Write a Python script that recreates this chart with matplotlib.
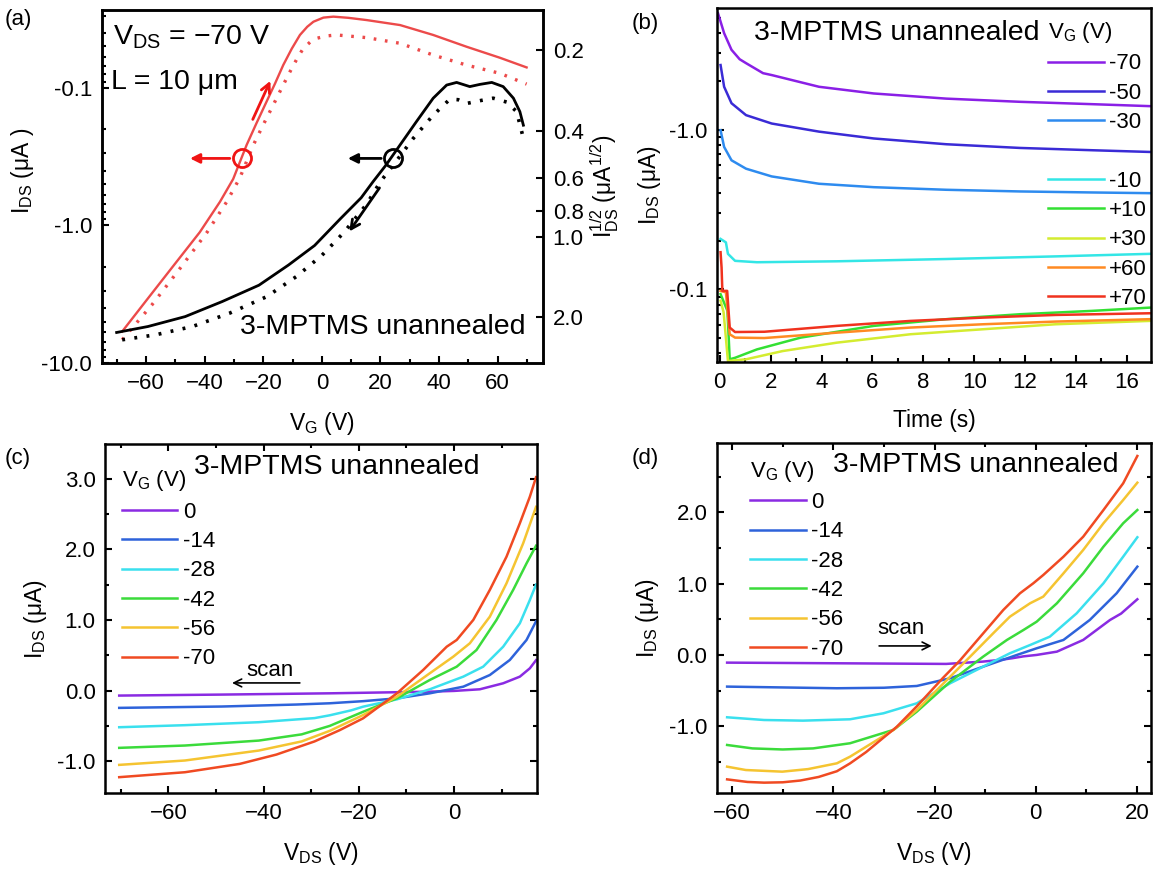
import matplotlib
matplotlib.use("Agg")
import matplotlib.pyplot as plt
from matplotlib.lines import Line2D
from matplotlib.ticker import FixedLocator, NullLocator, MultipleLocator, LogLocator

plt.rcParams['font.family'] = ['Liberation Sans', 'DejaVu Sans']
plt.rcParams['mathtext.fontset'] = 'custom'
plt.rcParams['mathtext.rm'] = 'Liberation Sans'
plt.rcParams['mathtext.it'] = 'Liberation Sans:italic'
plt.rcParams['axes.linewidth'] = 1.8

# ---- panel (a): transfer curves, |I_DS| in uA (axis labelled negative)
red_fwd_vg = [-68.2, -59.4, -50.5, -41.7, -34.8, -30.3, -25.7, -22.3, -18.9, -16.0, -13.2, -10.3, -7.5, -5.0, -2.9, 0.5, 3.9, 9.0, 15.3, 26.7, 38.0, 49.4, 60.8, 69.9]
red_fwd_i = [5.9, 3.39, 1.94, 1.12, 0.673, 0.46, 0.26, 0.18, 0.126, 0.093, 0.0683, 0.052, 0.0413, 0.036, 0.0331, 0.0309, 0.0304, 0.031, 0.0322, 0.035, 0.0413, 0.0503, 0.0605, 0.0711]
red_dot_vg = [-68.2, -58.1, -49.3, -39.2, -32.5, -28.0, -23.4, -20.0, -16.6, -13.7, -10.9, -8.6, -6.4, -4.0, -1.8, 1.5, 5.0, 15.3, 26.7, 38.0, 49.4, 60.8, 69.9]
red_dot_i = [6.78, 3.79, 2.17, 1.12, 0.673, 0.45, 0.26, 0.185, 0.133, 0.1, 0.0764, 0.062, 0.0518, 0.0465, 0.0437, 0.042, 0.0413, 0.0432, 0.0475, 0.0578, 0.0684, 0.0785, 0.094]
blk_vg = [-70.1, -59.4, -46.7, -34.1, -21.5, -11.4, -2.5, 6.3, 13.4, 17.5, 21.9, 26.7, 32.2, 38.0, 42.6, 46.0, 48.5, 50.5, 54.0, 58.0, 61.9, 65.4, 67.6, 68.8]
blk_i = [6.0, 5.43, 4.6, 3.58, 2.72, 1.94, 1.40, 0.895, 0.63, 0.48, 0.364, 0.26, 0.177, 0.119, 0.0955, 0.0914, 0.095, 0.098, 0.0944, 0.0914, 0.098, 0.119, 0.149, 0.187]
blk_dot_vg = [-68.2, -56.8, -44.2, -31.6, -18.9, -8.8, 0, 7.6, 15.3, 20.0, 24.4, 31.2, 38.0, 43.7, 46.5, 49.4, 54.0, 58.5, 63.1, 66.5, 68.8]
blk_dot_i = [6.78, 6.24, 5.43, 4.35, 3.3, 2.36, 1.65, 1.12, 0.70, 0.48, 0.364, 0.233, 0.158, 0.121, 0.122, 0.13, 0.124, 0.119, 0.127, 0.149, 0.233]
sqrt_ticks = [0.2, 0.4, 0.6, 0.8, 1.0, 2.0]

# ---- panel (b): I_DS vs time for several gate voltages
vg_b = ['-70', '-50', '-30', '-10', '+10', '+30', '+60', '+70']
colors_b = ['#8A1FE6', '#3A2BD6', '#2E8BEF', '#33E6E6', '#33E033', '#D4EC30', '#FF8A22', '#F0321E']
t_b = [
    [-0.07, 0.17, 0.46, 0.78, 1.03, 1.7, 2.04, 3.9, 6.05, 8.9, 11.8, 14.65, 16.9],
    [0.03, 0.17, 0.46, 1.03, 2.04, 3.9, 6.05, 8.9, 11.8, 14.65, 16.9],
    [0.03, 0.17, 0.46, 1.03, 2.04, 3.9, 6.05, 8.9, 11.8, 14.65, 16.9],
    [0.03, 0.24, 0.32, 0.6, 1.46, 4.6, 8.9, 13.2, 16.9],
    [0.03, 0.3, 0.39, 0.6, 1.46, 3.18, 6.05, 8.9, 11.8, 14.65, 16.9],
    [0.03, 0.15, 0.32, 1.03, 2.47, 4.6, 7.5, 10.35, 13.2, 16.9],
    [0.03, 0.24, 0.39, 0.6, 1.75, 4.6, 7.5, 10.35, 13.2, 16.9],
    [0.03, 0.07, 0.1, 0.29, 0.39, 0.6, 1.75, 4.6, 7.5, 10.35, 13.2, 16.9],
]
i_b = [
    [5.33, 4.0, 3.15, 2.75, 2.6, 2.25, 2.19, 1.85, 1.68, 1.56, 1.49, 1.44, 1.40],
    [2.53, 1.85, 1.46, 1.23, 1.09, 0.97, 0.879, 0.809, 0.767, 0.742, 0.724],
    [0.99, 0.778, 0.642, 0.569, 0.509, 0.458, 0.436, 0.420, 0.41, 0.404, 0.40],
    [0.207, 0.197, 0.167, 0.151, 0.148, 0.150, 0.155, 0.161, 0.167],
    [0.0935, 0.0735, 0.0366, 0.0374, 0.0422, 0.05, 0.0592, 0.0652, 0.07, 0.0735, 0.077],
    [0.085, 0.072, 0.0357, 0.0366, 0.0412, 0.0465, 0.0525, 0.0564, 0.0606, 0.0636],
    [0.098, 0.096, 0.0525, 0.05, 0.0497, 0.0537, 0.0578, 0.0606, 0.063, 0.0652],
    [0.171, 0.137, 0.098, 0.098, 0.0578, 0.0542, 0.0544, 0.0592, 0.0636, 0.0667, 0.0693, 0.071],
]

# ---- panel (c) and (d): output curves
vg_cd = ['0', '-14', '-28', '-42', '-56', '-70']
colors_cd = ['#8A2BE2', '#2E63DA', '#3AE0EE', '#3BDB3B', '#F5C431', '#F04A22']
vds_c = [
    [-70.3, -48.8, -26.1, -5.1, 0, 5.4, 10.3, 13.8, 15.9, 17.2],
    [-70.3, -48.8, -33.2, -26.1, -19.1, -12.0, -5.1, 1.93, 7.5, 11.7, 15.2, 17.2],
    [-70.3, -56.5, -41, -29.3, -26.1, -21.6, -19.1, -12.0, -5.1, 1.93, 6.1, 10.3, 13.8, 15.9, 17.2],
    [-70.3, -56.5, -41, -32, -26.1, -19.1, -12.0, -5.1, 0.54, 4.7, 8.9, 12.4, 15.2, 17.2],
    [-70.3, -56.5, -41, -32, -26.1, -19.1, -12.0, -5.1, -0.17, 3.3, 7.5, 11.0, 14.5, 17.2],
    [-70.3, -56.5, -45, -37.3, -29.3, -24, -19.1, -12.0, -6.5, -1.55, 0.54, 4.03, 7.5, 11.0, 13.8, 15.9, 17.2],
]
ids_c = [
    [-0.071, -0.057, -0.039, -0.016, -0.005, 0.018, 0.103, 0.197, 0.315, 0.43],
    [-0.245, -0.226, -0.198, -0.18, -0.15, -0.11, -0.039, 0.055, 0.22, 0.433, 0.716, 0.98],
    [-0.519, -0.49, -0.448, -0.39, -0.35, -0.28, -0.228, -0.124, 0.018, 0.197, 0.338, 0.621, 0.952, 1.282, 1.50],
    [-0.811, -0.778, -0.708, -0.62, -0.50, -0.30, -0.11, 0.15, 0.338, 0.574, 1.0, 1.425, 1.80, 2.05],
    [-1.052, -0.99, -0.849, -0.72, -0.57, -0.346, -0.087, 0.245, 0.48, 0.669, 1.046, 1.518, 2.085, 2.60],
    [-1.226, -1.156, -1.038, -0.906, -0.72, -0.56, -0.393, -0.039, 0.291, 0.621, 0.716, 1.0, 1.425, 1.895, 2.368, 2.744, 3.02],
]
vds_d = [
    [-61, -39.3, -17.7, -10.5, -7.0, -4.7, -2.4, 0.2, 4.2, 9.4, 14.7, 16.9, 20.1],
    [-61, -39.3, -30, -23.5, -16.9, -10.4, -3.7, 0.2, 5.5, 10.7, 16.0, 20.1],
    [-61, -53.7, -46, -36.7, -30.1, -23.5, -16.9, -10.4, -5.1, -1.1, 2.8, 8.1, 13.4, 17.3, 20.1],
    [-61, -56, -50, -44, -36.7, -28.1, -23.5, -16.9, -10.4, -5.7, -2.4, 0.2, 4.2, 9.4, 13.4, 17.3, 20.1],
    [-61, -57.3, -50.1, -45, -39.3, -36.7, -28.1, -23.5, -16.9, -12.3, -8.4, -5.1, -1.1, 1.5, 5.5, 9.4, 13.4, 17.3, 20.1],
    [-61, -57, -53.7, -50, -46.5, -42.9, -39.3, -36.7, -33.5, -30.1, -27.5, -23.5, -18.3, -15.0, -10.4, -6.4, -3.1, -0.47, 1.5, 5.5, 9.4, 13.4, 17.3, 20.1],
]
ids_d = [
    [-0.108, -0.117, -0.126, -0.094, -0.07, -0.047, -0.02, 0.0, 0.046, 0.21, 0.49, 0.58, 0.78],
    [-0.444, -0.467, -0.46, -0.435, -0.327, -0.165, 0.0, 0.093, 0.21, 0.49, 0.864, 1.237],
    [-0.874, -0.912, -0.921, -0.902, -0.818, -0.678, -0.397, -0.165, 0.023, 0.139, 0.256, 0.583, 1.004, 1.377, 1.649],
    [-1.262, -1.31, -1.325, -1.31, -1.238, -1.05, -0.795, -0.375, -0.025, 0.209, 0.35, 0.466, 0.724, 1.144, 1.517, 1.845, 2.031],
    [-1.566, -1.613, -1.636, -1.60, -1.519, -1.426, -1.05, -0.772, -0.305, 0.023, 0.303, 0.536, 0.724, 0.817, 1.144, 1.471, 1.845, 2.171, 2.414],
    [-1.744, -1.78, -1.79, -1.785, -1.76, -1.71, -1.63, -1.52, -1.36, -1.16, -1.01, -0.72, -0.32, -0.08, 0.30, 0.63, 0.864, 1.004, 1.12, 1.377, 1.657, 2.031, 2.405, 2.788],
]

W, H = 1154, 869
fig = plt.figure(figsize=(W / 100, H / 100), dpi=100)


def box(x0, x1, y0, y1):
    # pixel box -> figure fraction
    return [x0 / W, 1 - y1 / H, (x1 - x0) / W, (y1 - y0) / H]


tick_fs = 16
lab_fs = 16.5
txt_fs = 20.5
DS = r'$_{\mathrm{DS}}$'
G = r'$_{\mathrm{G}}$'
leg_kw = dict(frameon=False, fontsize=tick_fs, title_fontsize=tick_fs, borderpad=0, borderaxespad=0,
              handlelength=2.5, handletextpad=0.25, labelspacing=0.375, alignment='left')


def style(ax, mirror=False):
    ax.tick_params(which='both', direction='in', labelsize=tick_fs, width=1.5,
                   top=mirror, right=mirror)
    ax.tick_params(which='major', length=5, pad=7)
    ax.tick_params(which='minor', length=3)


def neg_labels(vals):
    return ['-%.1f' % v for v in vals]


# ---------------- (a)
axa = fig.add_axes(box(101.7, 543, 10, 363))
axa.plot(red_fwd_vg, red_fwd_i, color='#EC4A4A', lw=1.7)
axa.plot(red_dot_vg, red_dot_i, color='#EC4A4A', lw=2.4, ls=(0, (0.8, 2.6)))
axa.plot(blk_vg, blk_i, color='black', lw=2.0)
axa.plot(blk_dot_vg, blk_dot_i, color='black', lw=2.6, ls=(0, (0.8, 2.6)))
axa.set_yscale('log')
axa.set_xlim(-75.2, 75.5)
axa.set_ylim(10, 0.0272)
axa.yaxis.set_major_locator(FixedLocator([0.1, 1, 10]))
axa.set_yticklabels(neg_labels([0.1, 1, 10]))
axa.yaxis.set_minor_locator(LogLocator(subs=range(2, 10)))
axa.yaxis.set_minor_formatter(plt.NullFormatter())
axa.xaxis.set_major_locator(MultipleLocator(20))
axa.xaxis.set_minor_locator(MultipleLocator(10))
style(axa)
axa.set_xlabel('V' + G + ' (V)', fontsize=lab_fs, labelpad=12)
axa.set_ylabel('I' + DS + ' (μA )', fontsize=lab_fs)
axa.yaxis.set_label_coords(-0.15, 0.545)

# circles and arrows marking which axis each curve belongs to
axa.plot([-27.4], [0.326], marker='o', ms=13, mfc='none', mec='#F01414', mew=2)
axa.annotate('', xy=(-46, 0.326), xytext=(-30.5, 0.326),
             arrowprops=dict(arrowstyle='-|>', color='#F01414', lw=2, mutation_scale=14))
axa.annotate('', xy=(-17.2, 0.0853), xytext=(-24.0, 0.177),
             arrowprops=dict(arrowstyle='->', color='#F01414', lw=2, mutation_scale=16))
axa.plot([24.2], [0.326], marker='o', ms=13, mfc='none', mec='black', mew=2)
axa.annotate('', xy=(7.9, 0.326), xytext=(21.2, 0.326),
             arrowprops=dict(arrowstyle='-|>', color='black', lw=2, mutation_scale=14))
axa.annotate('', xy=(8.8, 1.15), xytext=(20.2, 0.514),
             arrowprops=dict(arrowstyle='->', color='black', lw=2, mutation_scale=16))
axa.text(0.025, 0.924, 'V' + DS + ' = −70 V', transform=axa.transAxes, fontsize=txt_fs, va='center')
axa.text(0.021, 0.797, 'L = 10 μm', transform=axa.transAxes, fontsize=txt_fs, va='center')
axa.text(0.313, 0.102, '3-MPTMS unannealed', transform=axa.transAxes, fontsize=txt_fs, va='center')

axr = axa.twinx()
axr.set_yscale('log')
axr.set_ylim(2.97, 0.141)
axr.yaxis.set_major_locator(FixedLocator(sqrt_ticks))
axr.set_yticklabels(['%.1f' % v for v in sqrt_ticks])
axr.yaxis.set_minor_locator(NullLocator())
axr.tick_params(which='both', direction='in', labelsize=tick_fs, width=1.5, length=5, pad=7)
axr.set_ylabel(r'I$_{\mathrm{DS}}^{\mathrm{1/2}}$ (μA$^{\mathrm{1/2}}$)', fontsize=lab_fs, labelpad=4)

# ---------------- (b)
axb = fig.add_axes(box(717, 1151, 8, 362))
for k in range(len(vg_b)):
    axb.plot(t_b[k], i_b[k], color=colors_b[k], lw=1.8, label=vg_b[k])
axb.set_yscale('log')
axb.set_xlim(-0.11, 16.95)
axb.set_ylim(0.0352, 5.75)
axb.yaxis.set_major_locator(FixedLocator([0.1, 1]))
axb.set_yticklabels(neg_labels([0.1, 1]))
axb.yaxis.set_minor_locator(LogLocator(subs=range(2, 10)))
axb.yaxis.set_minor_formatter(plt.NullFormatter())
axb.xaxis.set_major_locator(MultipleLocator(2))
axb.xaxis.set_minor_locator(MultipleLocator(1))
style(axb)
axb.set_xlabel('Time (s)', fontsize=lab_fs, labelpad=12)
axb.set_ylabel('I' + DS + ' (μA)', fontsize=lab_fs, labelpad=4)
axb.text(0.085, 0.929, '3-MPTMS unannealed', transform=axb.transAxes, fontsize=txt_fs, va='center')
hb, lb = axb.get_legend_handles_labels()
hb = hb[:3] + [Line2D([], [], color='none')] + hb[3:]
lb = lb[:3] + [' '] + lb[3:]
axb.legend(hb, lb, title='V' + G + ' (V)', loc='upper left', bbox_to_anchor=(0.763, 0.966), **leg_kw)


# ---------------- (c) and (d)
def iv_panel(ax, vds, ids, xlim, ylim, xticks, yticks):
    for k in range(len(vg_cd)):
        ax.plot(vds[k], ids[k], color=colors_cd[k], lw=1.8, label=vg_cd[k])
    ax.set_xlim(*xlim)
    ax.set_ylim(*ylim)
    ax.set_xticks(xticks)
    ax.set_yticks(yticks)
    ax.set_yticklabels(['%.1f' % v for v in yticks])
    ax.xaxis.set_minor_locator(MultipleLocator(10))
    ax.yaxis.set_minor_locator(MultipleLocator(0.5))
    style(ax, mirror=True)
    ax.set_xlabel('V' + DS + ' (V)', fontsize=lab_fs, labelpad=12)
    ax.set_ylabel('I' + DS + ' (μA)', fontsize=lab_fs, labelpad=6)


axc = fig.add_axes(box(105.4, 537, 444, 793))
iv_panel(axc, vds_c, ids_c, (-73.2, 17.4), (-1.45, 3.49), [-60, -40, -20, 0], [-1.0, 0.0, 1.0, 2.0, 3.0])
axc.text(0.205, 0.934, '3-MPTMS unannealed', transform=axc.transAxes, fontsize=txt_fs, va='center')
axc.legend(title='V' + G + ' (V)', loc='upper left', bbox_to_anchor=(0.038, 0.93), **leg_kw)
axc.annotate('', xy=(-47.2, 0.108), xytext=(-31.8, 0.108),
             arrowprops=dict(arrowstyle='->', color='black', lw=1.2, mutation_scale=14))
axc.text(-38.7, 0.283, 'scan', fontsize=tick_fs, ha='center', va='center')

axd = fig.add_axes(box(717, 1151, 443, 793))
iv_panel(axd, vds_d, ids_d, (-63, 22.8), (-1.935, 2.97), [-60, -40, -20, 0, 20], [-1.0, 0.0, 1.0, 2.0])
axd.text(0.267, 0.937, '3-MPTMS unannealed', transform=axd.transAxes, fontsize=txt_fs, va='center')
axd.legend(title='V' + G + ' (V)', loc='upper left', bbox_to_anchor=(0.076, 0.955), **leg_kw)
axd.annotate('', xy=(-20.0, 0.126), xytext=(-31.5, 0.126),
             arrowprops=dict(arrowstyle='->', color='black', lw=1.2, mutation_scale=14))
axd.text(-26.7, 0.365, 'scan', fontsize=tick_fs, ha='center', va='center')

# panel letters
for lbl, x, y in [('(a)', 5, 20), ('(b)', 632, 24), ('(c)', 5, 458), ('(d)', 632, 458)]:
    fig.text(x / W, 1 - y / H, lbl, fontsize=tick_fs, va='center', ha='left')

fig.savefig('out.png', dpi=100)
